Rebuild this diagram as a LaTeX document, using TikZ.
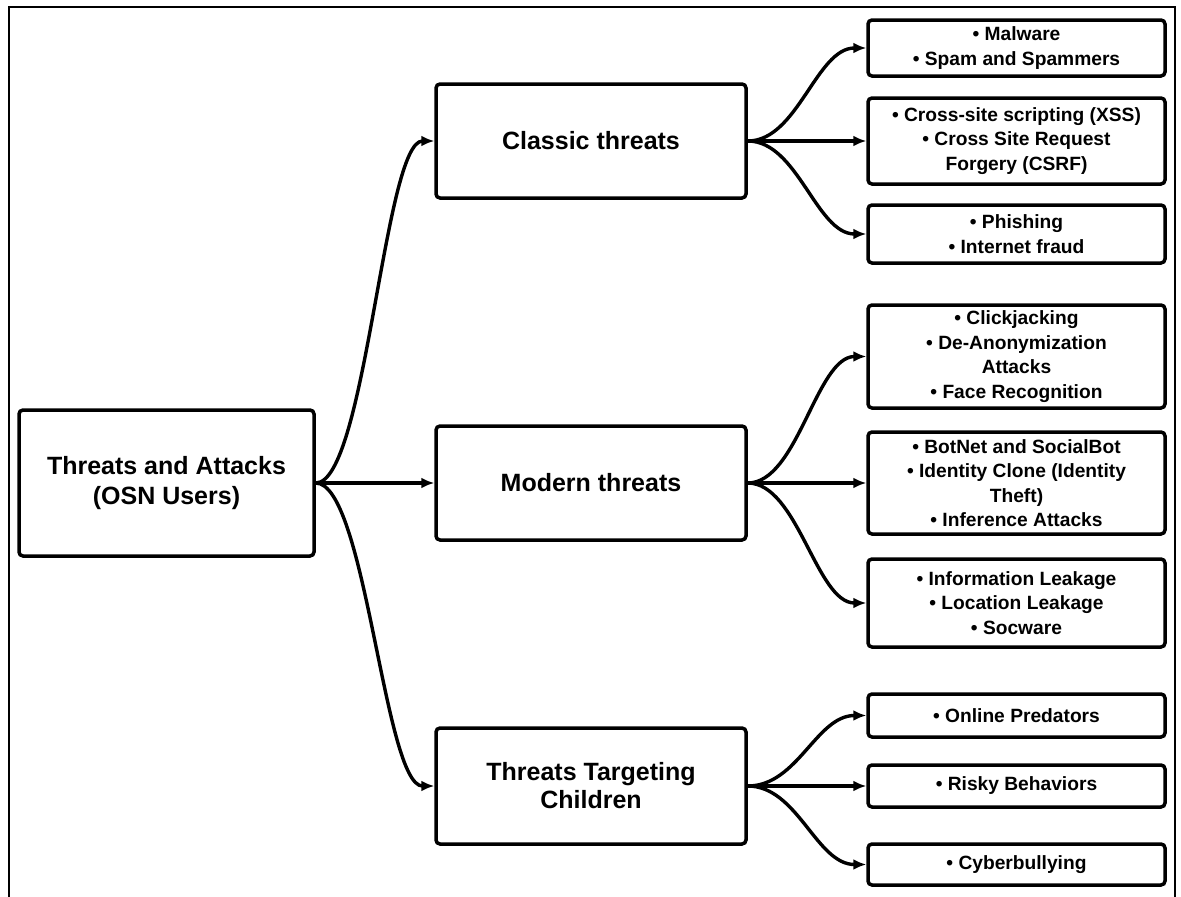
\documentclass[tikz,border=0pt]{standalone}
\usepackage{fontspec}
\setmainfont{Liberation Sans}
\usetikzlibrary{arrows.meta}
\begin{document}
\begin{tikzpicture}[x=1pt,y=-1pt,
  box/.style={draw, line width=3.5pt, rounded corners=4pt, fill=white,
    align=center, inner sep=0pt, font=\bfseries\fontsize{25}{28}\selectfont},
  rootbox/.style={box, font=\bfseries\fontsize{25}{30}\selectfont},
  item/.style={box, minimum width=297pt, font=\bfseries\fontsize{19.2}{24.5}\selectfont},
  mid/.style={box, minimum width=310pt, minimum height=114pt},
  link/.style={line width=3.4pt, -{Latex[length=13pt,width=11pt]}}]
\useasboundingbox (0,0) rectangle (1181,897);

% outer frame (open at the bottom)
\draw[line width=2.5pt] (9,897) -- (9,7) -- (1175,7) -- (1175,897);

% root
\node[rootbox, minimum width=295pt, minimum height=146pt] (root) at (166.5,483)
  {Threats and Attacks\\(OSN Users)};

% categories
\node[mid] (classic) at (591,141) {Classic threats};
\node[mid] (modern) at (591,483) {Modern threats};
\node[mid, minimum height=116pt] (children) at (591,786) {Threats Targeting\\Children};

% leaves of the classic threats
\node[item, minimum height=56pt] (c1) at (1016.5,48) {• Malware\\• Spam and Spammers};
\node[item, minimum height=86pt] (c2) at (1016.5,141) {• Cross-site scripting (XSS)\\• Cross Site Request\\Forgery (CSRF)};
\node[item, minimum height=58pt] (c3) at (1016.5,234) {• Phishing\\• Internet fraud};

% leaves of the modern threats
\node[item, minimum height=103pt] (m1) at (1016.5,356.5) {• Clickjacking\\• De-Anonymization\\Attacks\\• Face Recognition};
\node[item, minimum height=102pt] (m2) at (1016.5,483) {• BotNet and SocialBot\\• Identity Clone (Identity\\Theft)\\• Inference Attacks};
\node[item, minimum height=88pt] (m3) at (1016.5,603) {• Information Leakage\\• Location Leakage\\• Socware};

% leaves of the threats targeting children
\node[item, minimum height=43pt] (k1) at (1016.5,715.5) {• Online Predators};
\node[item, minimum height=42pt] (k2) at (1016.5,786) {• Risky Behaviors};
\node[item, minimum height=41pt] (k3) at (1016.5,864.5) {• Cyberbullying};

% connectors
\foreach \a/\b in {root/classic, root/modern, root/children,
                   classic/c1, classic/c2, classic/c3,
                   modern/m1, modern/m2, modern/m3,
                   children/k1, children/k2, children/k3}
  \draw[link] (\a.east) .. controls +(50,0) and +(-50,0) .. (\b.west);
\end{tikzpicture}
\end{document}
